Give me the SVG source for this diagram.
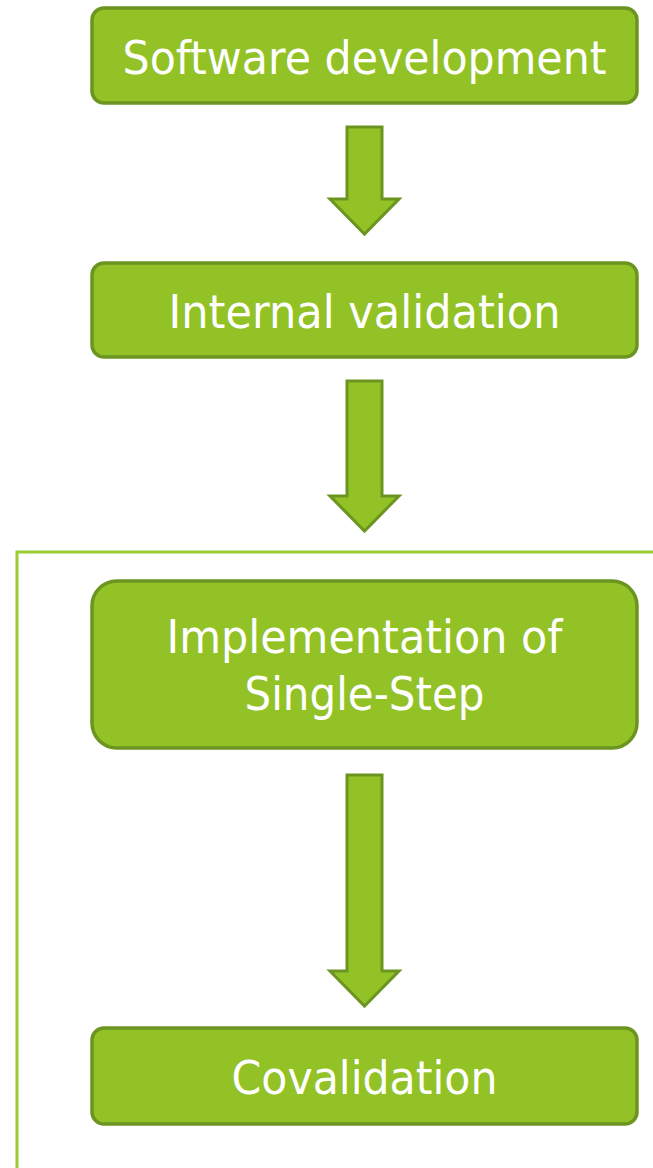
<svg xmlns="http://www.w3.org/2000/svg" width="653" height="1168" viewBox="0 0 653 1168">
<style>
.box{fill:#92C225;stroke:#6B9520;stroke-width:3.5}
.arr{fill:#92C225;stroke:#6B9520;stroke-width:3;stroke-linejoin:miter}
.lbl{fill:#ffffff;font-family:"DejaVu Sans",sans-serif;font-size:47px;text-anchor:middle}
.brk{fill:none;stroke:#9ACD32;stroke-width:3}
</style>
<rect width="653" height="1168" fill="#ffffff"/>
<g id="bracket">
<path class="brk" d="M653,552 H17 V1168"/>
</g>
<g id="connectors">
<path class="arr" d="M347,127 H382 V199 H399 L364.5,234 L330,199 H347 Z"/>
<path class="arr" d="M347,381 H382 V496 H399 L364.5,531 L330,496 H347 Z"/>
<path class="arr" d="M347,775 H382 V971 H399 L364.5,1006 L330,971 H347 Z"/>
</g>
<g id="node1">
<rect class="box" x="92" y="8" width="545" height="95" rx="12"/>
<text class="lbl" x="364.5" y="74" textLength="484" lengthAdjust="spacingAndGlyphs">Software development</text>
</g>
<g id="node2">
<rect class="box" x="92" y="263" width="545" height="94" rx="12"/>
<text class="lbl" x="364.5" y="328" textLength="392" lengthAdjust="spacingAndGlyphs">Internal validation</text>
</g>
<g id="node3">
<rect class="box" x="92" y="581" width="545" height="167" rx="25"/>
<text class="lbl" x="364.5" y="653" textLength="396" lengthAdjust="spacingAndGlyphs">Implementation of</text>
<text class="lbl" x="364.5" y="710" textLength="240" lengthAdjust="spacingAndGlyphs">Single-Step</text>
</g>
<g id="node4">
<rect class="box" x="92" y="1028" width="545" height="96" rx="12"/>
<text class="lbl" x="364.5" y="1094" textLength="266" lengthAdjust="spacingAndGlyphs">Covalidation</text>
</g>
</svg>
